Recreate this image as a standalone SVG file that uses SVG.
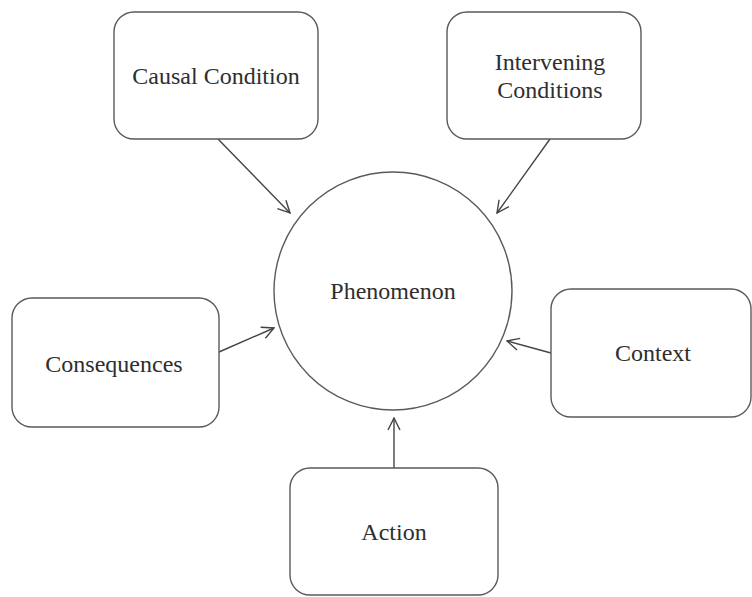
<svg xmlns="http://www.w3.org/2000/svg" width="752" height="597" viewBox="0 0 752 597">
  <style>
    .box { fill: #ffffff; stroke: #5a5a5a; stroke-width: 1.4; }
    .hub { fill: #ffffff; stroke: #5a5a5a; stroke-width: 1.4; }
    .lbl { font-family: "Liberation Serif", "Times New Roman", serif; font-size: 24px; fill: #2e2e2e; text-anchor: middle; }
    .link { stroke: #444444; stroke-width: 1.4; fill: none; marker-end: url(#head); }
  </style>
  <defs>
    <marker id="head" viewBox="0 0 14 14" refX="13" refY="7" markerWidth="14" markerHeight="14" markerUnits="userSpaceOnUse" orient="auto">
      <path d="M1,1 L13,7 L1,13" fill="none" stroke="#444444" stroke-width="1.4"/>
    </marker>
  </defs>
  <rect width="752" height="597" fill="#ffffff"/>

  <g id="connectors">
    <line class="link" x1="218" y1="139" x2="290" y2="213"/>
    <line class="link" x1="550" y1="139" x2="497" y2="213"/>
    <line class="link" x1="219" y1="352" x2="274" y2="328"/>
    <line class="link" x1="551" y1="353" x2="507" y2="341"/>
    <line class="link" x1="394" y1="468" x2="394" y2="418"/>
  </g>

  <g id="phenomenon">
    <circle class="hub" cx="393" cy="291" r="119"/>
    <text class="lbl" x="393" y="299">Phenomenon</text>
  </g>

  <g id="causal-condition">
    <rect class="box" x="114" y="12" width="204" height="127" rx="20"/>
    <text class="lbl" x="216" y="84">Causal Condition</text>
  </g>

  <g id="intervening-conditions">
    <rect class="box" x="447" y="12" width="194" height="127" rx="20"/>
    <text class="lbl" x="550" y="70">Intervening</text>
    <text class="lbl" x="550" y="98">Conditions</text>
  </g>

  <g id="consequences">
    <rect class="box" x="12" y="298" width="207" height="129" rx="20"/>
    <text class="lbl" x="114" y="372">Consequences</text>
  </g>

  <g id="context">
    <rect class="box" x="551" y="289" width="200" height="128" rx="20"/>
    <text class="lbl" x="653" y="361">Context</text>
  </g>

  <g id="action">
    <rect class="box" x="290" y="468" width="208" height="127" rx="20"/>
    <text class="lbl" x="394" y="540">Action</text>
  </g>
</svg>
